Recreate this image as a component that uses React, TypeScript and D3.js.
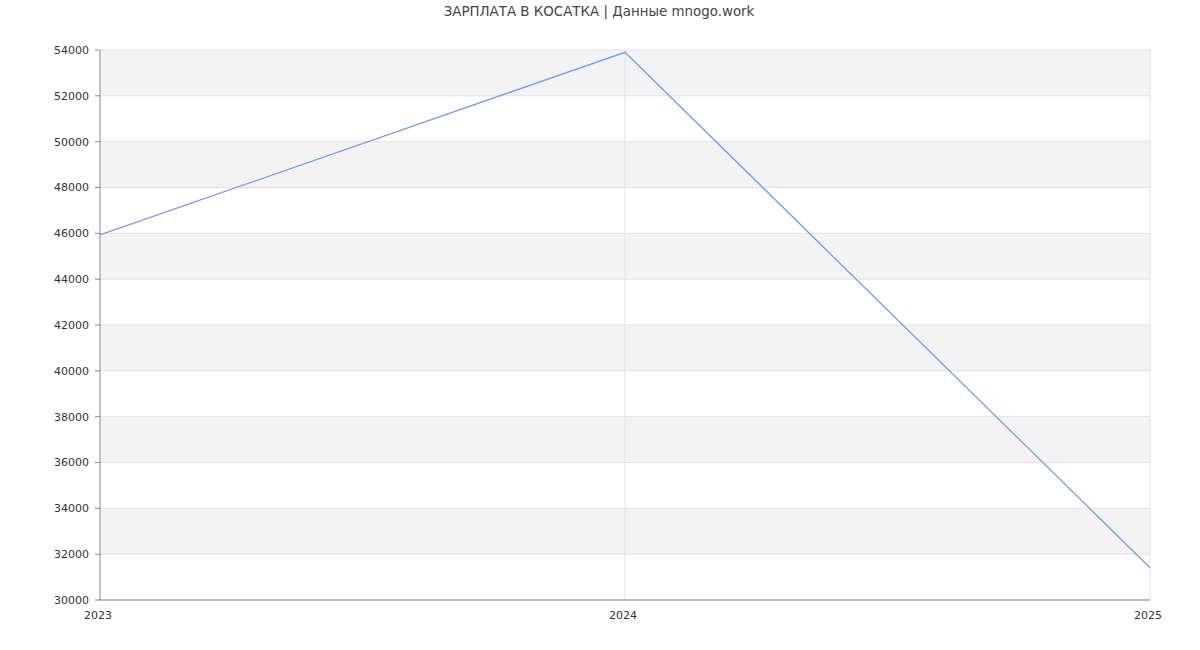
import React from "react";
import * as d3 from "d3";

const years = [2023, 2024, 2025];
const salaries = [45930, 53900, 31410];
const yTicks = d3.range(30000, 54001, 2000);
const title = "ЗАРПЛАТА В КОСАТКА | Данные mnogo.work";

export default function App() {
  const W = 1200, H = 650;
  const left = 100, right = 1150, top = 50, bottom = 600;
  const x = d3.scaleLinear().domain([2023, 2025]).range([left, right]);
  const y = d3.scaleLinear().domain([30000, 54000]).range([bottom, top]);
  const line = d3.line<number>().x((_, i) => x(years[i])).y((d) => y(d));
  const bands = yTicks.slice(0, -1).map((t, i) => ({ lo: t, hi: yTicks[i + 1], i }));
  return (
    <svg width={W} height={H} style={{ position: "absolute", left: 0, top: 0, fontFamily: "DejaVu Sans" }}>
      <rect x={0} y={0} width={W} height={H} fill="#fff" />
      {bands.map((b) =>
        (yTicks.length - 2 - b.i) % 2 === 0 ? (
          <rect key={b.lo} x={left} y={y(b.hi)} width={right - left} height={y(b.lo) - y(b.hi)} fill="#f3f3f3" />
        ) : null
      )}
      {yTicks.map((t) => (
        <line key={t} x1={left} x2={right} y1={y(t)} y2={y(t)} stroke="#e2e2e2" strokeWidth={1} />
      ))}
      {years.slice(1).map((yr) => (
        <line key={yr} x1={x(yr)} x2={x(yr)} y1={top} y2={bottom} stroke="#e2e2e2" strokeWidth={1} />
      ))}
      <line x1={left} x2={left} y1={top} y2={bottom} stroke="#888" strokeWidth={1} />
      <line x1={left} x2={right} y1={bottom} y2={bottom} stroke="#888" strokeWidth={1} />
      {yTicks.map((t) => (
        <g key={t}>
          <line x1={left - 5} x2={left} y1={y(t)} y2={y(t)} stroke="#888" />
          <text x={left - 11} y={y(t)} dy="0.35em" textAnchor="end" fontSize={11} fill="#333">
            {t}
          </text>
        </g>
      ))}
      {years.map((yr) => (
        <text key={yr} x={x(yr) - 2} y={bottom + 19} textAnchor="middle" fontSize={11} fill="#333">
          {yr}
        </text>
      ))}
      <path d={line(salaries) || ""} fill="none" stroke="#6f9cef" strokeWidth={1.3} />
      <text x={W / 2 - 1} y={16} textAnchor="middle" fontSize={13.4} fill="#444">
        {title}
      </text>
    </svg>
  );
}
